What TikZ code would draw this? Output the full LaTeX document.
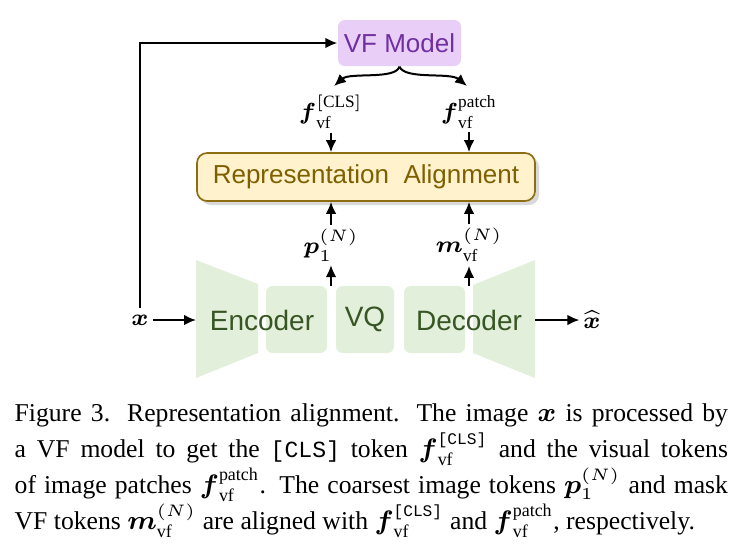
\documentclass[tikz,border=0pt]{standalone}
\usepackage{amsmath,amssymb}
\usepackage{fontspec}
\setmainfont{Liberation Serif}
\setsansfont{Liberation Sans}
\setmonofont{Liberation Mono}[Scale=0.9]
\usepackage{tikz}
\usetikzlibrary{arrows.meta, positioning, shadows}
\usepackage{xcolor}
\definecolor{vfpurple}{HTML}{7030A0}
\definecolor{vffill}{HTML}{E9CFF8}
\definecolor{alignfill}{HTML}{FFF2CC}
\definecolor{aligndraw}{HTML}{8C6D12}
\definecolor{aligntext}{HTML}{7F6000}
\definecolor{codecfill}{HTML}{E2EFDA}
\definecolor{codectext}{HTML}{375623}

\begin{document}
\begin{tikzpicture}[
        x=0.3pt, y=-0.3pt,
        every node/.style={font=\sffamily\fontsize{7.8}{9}\selectfont},
        vfbox/.style={fill=vffill, rounded corners=2pt, inner sep=0pt, minimum width=36.9pt, minimum height=13.8pt, text=vfpurple},
        alignbox/.style={draw=aligndraw, line width=0.5pt, fill=alignfill, rounded corners=3pt, inner sep=0pt, minimum width=101.4pt, minimum height=14.4pt, text=aligntext, drop shadow={shadow xshift=1.2pt, shadow yshift=-1.2pt, opacity=0.25, fill=black!60}},
        codecbox/.style={fill=codecfill, rounded corners=2pt, inner sep=0pt, minimum height=20.1pt},
        codectxt/.style={text=codectext, font=\sffamily\fontsize{8.4}{9}\selectfont},
        tok/.style={font=\fontsize{7.4}{8}\selectfont, inner sep=1pt},
        arrowstyle/.style={-{Latex[length=3.6pt, width=3.2pt]}, line width=0.6pt}
    ]
        \useasboundingbox (0,0) rectangle (740,558);

        % encoder / vq / decoder
        \fill[codecfill] (196,260) -- (258,284) -- (258,353) -- (196,378) -- cycle;
        \fill[codecfill] (473,285) -- (535,260) -- (535,378) -- (473,353) -- cycle;
        \node[codecbox, minimum width=18.3pt] (encbox) at (296.5,319.5) {};
        \node[codecbox, minimum width=17.4pt, codectxt] (vq) at (365,319.5) {VQ};
        \node[codecbox, minimum width=18.3pt] (decbox) at (434.5,319.5) {};
        \node[codectxt] (enc) at (262,320) {Encoder};
        \node[codectxt] (dec) at (469,320) {Decoder};
        \coordinate (encin) at (196,320);
        \coordinate (decout) at (535,320);

        % alignment and vf model
        \node[alignbox] (align) at (366,177) {Representation\ \ Alignment};
        \node[vfbox] (vf) at (399.5,43) {VF Model};

        % tokens
        \node[tok] (img) at (140,320) {$\boldsymbol{x}$};
        \node[tok] (rec) at (592,320) {$\widehat{\boldsymbol{x}}$};
        \node[tok] (fcls) at (331,112) {$\boldsymbol{f}_{\mathrm{vf}}^{\mathrm{[CLS]}}$};
        \node[tok] (fpatch) at (469,112) {$\boldsymbol{f}_{\mathrm{vf}}^{\mathrm{patch}}$};
        \node[tok] (p1) at (331,245) {$\boldsymbol{p}_{1}^{(N)}$};
        \node[tok] (mvf) at (469,245) {$\boldsymbol{m}_{\mathrm{vf}}^{(N)}$};
        \coordinate (p1src) at (331,286);
        \coordinate (mvfsrc) at (469,286);

        \draw[arrowstyle] (img) -- (encin);
        \draw[arrowstyle] (decout) -- (rec);
        \draw[arrowstyle] ([yshift=1pt]img.north) |- (vf.west);
        \draw[arrowstyle] (vf.south) .. controls (395,80) and (350,72) .. (334,86);
        \draw[arrowstyle] (vf.south) .. controls (405,80) and (450,72) .. (467,86);
        \draw[arrowstyle] (fcls) -- (fcls |- align.north);
        \draw[arrowstyle] (fpatch) -- (fpatch |- align.north);
        \draw[arrowstyle] (p1) -- (p1 |- align.south);
        \draw[arrowstyle] (mvf) -- (mvf |- align.south);
        \draw[arrowstyle] (p1src) -- (p1);
        \draw[arrowstyle] (mvfsrc) -- (mvf);

        % caption
        \node[anchor=north west, text width=214pt, align=justify, inner sep=0pt, font=\rmfamily\fontsize{7.7}{10.8}\selectfont] (caption) at (14,403) {\hyphenpenalty=10000 \tolerance=9999 Figure 3. Representation alignment. The image $\boldsymbol{x}$ is processed by\linebreak a VF model to get the \texttt{[CLS]} token $\boldsymbol{f}_{\mathrm{vf}}^{\texttt{[CLS]}}$ and the visual tokens\linebreak of image patches $\boldsymbol{f}_{\mathrm{vf}}^{\mathrm{patch}}$. The coarsest image tokens $\boldsymbol{p}_1^{(N)}$ and mask\linebreak VF tokens $\boldsymbol{m}_{\mathrm{vf}}^{(N)}$ are aligned with $\boldsymbol{f}_{\mathrm{vf}}^{\texttt{[CLS]}}$ and $\boldsymbol{f}_{\mathrm{vf}}^{\mathrm{patch}}$, respectively.};
    \end{tikzpicture}
\end{document}
